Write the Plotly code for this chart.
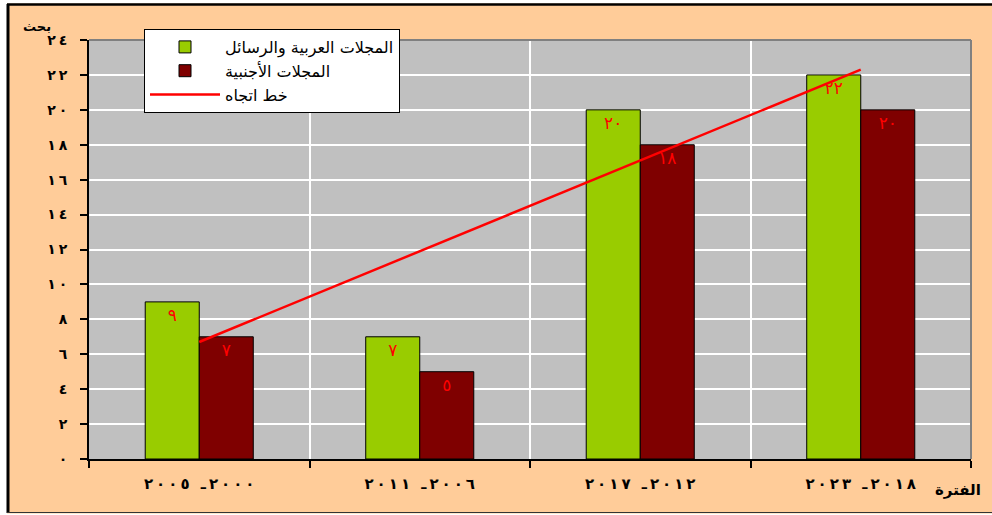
import numpy as np
import plotly.graph_objects as go

# ---- data ----
LRO, PDF, TS = "\u202d", "\u202c", "\u2009"
categories = ["٢٠٠٥ ـ٢٠٠٠", "٢٠١١ ـ٢٠٠٦", "٢٠١٧ ـ٢٠١٢", "٢٠٢٣ ـ٢٠١٨"]
arab_values = [9, 7, 20, 22]
foreign_values = [7, 5, 18, 20]
arab_labels = ["٩", "٧", "٢٠", "٢٢"]
foreign_labels = ["٧", "٥", "١٨", "٢٠"]
y_tickvals = [0, 2, 4, 6, 8, 10, 12, 14, 16, 18, 20, 22, 24]
y_ticktext = ["٠", "٢", "٤", "٦", "٨", "١٠", "١٢", "١٤", "١٦", "١٨", "٢٠", "٢٢", "٢٤"]
series_names = ["المجلات العربية والرسائل", "المجلات الأجنبية", "خط اتجاه"]
y_title = "بحث"
x_title = "الفترة"


def spaced(s):
    # force left-to-right visual order and spread the digits a little
    return LRO + TS.join(list(s)) + PDF


x_labels = [spaced(c) for c in categories]
y_labels = [spaced(t) for t in y_ticktext]

# linear trend of the first series (as Excel's trendline)
idx = np.arange(len(arab_values))
slope, intercept = np.polyfit(idx, arab_values, 1)
trend = slope * idx + intercept

FONT = "DejaVu Sans"
PEACH = "#FFCC99"
W, H = 992, 515
L, R, T, B = 89, 21, 40, 56
pw, ph = W - L - R, H - T - B


def px(x):
    return (x - L) / pw


def py(y):
    return (H - B - y) / ph


fig = go.Figure()
fig.add_trace(go.Bar(
    x=x_labels, y=arab_values, name=series_names[0],
    marker=dict(color="#99CC00", line=dict(color="#000000", width=1)),
    text=arab_labels, textposition="inside", insidetextanchor="end",
    textfont=dict(color="#FF0000", size=17, family=FONT),
    constraintext="none", hoverinfo="skip",
))
fig.add_trace(go.Bar(
    x=x_labels, y=foreign_values, name=series_names[1],
    marker=dict(color="#7F0000", line=dict(color="#000000", width=1)),
    text=foreign_labels, textposition="inside", insidetextanchor="end",
    textfont=dict(color="#FF0000", size=17, family=FONT),
    constraintext="none", hoverinfo="skip",
))
fig.add_trace(go.Scatter(
    x=x_labels, y=trend, name=series_names[2], mode="lines",
    line=dict(color="#FF0000", width=2.5), hoverinfo="skip",
))

shapes = [
    # white margins outside the frame
    dict(type="rect", xref="paper", yref="paper", x0=px(-5), x1=px(7), y0=py(-5), y1=py(520),
         fillcolor="white", line=dict(width=0), layer="above"),
    dict(type="rect", xref="paper", yref="paper", x0=px(-5), x1=px(1000), y0=py(-5), y1=py(3.5),
         fillcolor="white", line=dict(width=0), layer="above"),
    dict(type="rect", xref="paper", yref="paper", x0=px(-5), x1=px(1000), y0=py(513.5), y1=py(520),
         fillcolor="white", line=dict(width=0), layer="above"),
    # frame lines
    dict(type="line", xref="paper", yref="paper", x0=px(7), x1=px(1000), y0=py(4.5), y1=py(4.5),
         line=dict(color="#000000", width=2.5), layer="above"),
    dict(type="line", xref="paper", yref="paper", x0=px(8), x1=px(8), y0=py(4), y1=py(513),
         line=dict(color="#000000", width=3), layer="above"),
    dict(type="line", xref="paper", yref="paper", x0=px(7), x1=px(1000), y0=py(512.5), y1=py(512.5),
         line=dict(color="#333333", width=1.2), layer="above"),
    # plot area border (top / right)
    dict(type="line", xref="paper", yref="paper", x0=0, x1=1, y0=1, y1=1,
         line=dict(color="#808080", width=2), layer="above"),
    dict(type="line", xref="paper", yref="paper", x0=1, x1=1, y0=0, y1=1,
         line=dict(color="#808080", width=2), layer="above"),
]

fig.update_layout(
    width=W, height=H,
    margin=dict(l=L, r=R, t=T, b=B, pad=0, autoexpand=False),
    paper_bgcolor=PEACH, plot_bgcolor="#C0C0C0",
    font=dict(family=FONT, color="#000000"),
    barmode="group", bargap=0.51, bargroupgap=0,
    showlegend=True,
    legend=dict(
        x=px(144), y=py(29), xanchor="left", yanchor="top",
        bgcolor="white", bordercolor="#000000", borderwidth=1,
        font=dict(family=FONT, size=16, color="#000000"),
        tracegroupgap=0, itemwidth=70,
    ),
    shapes=shapes,
    annotations=[
        dict(text=f"<b>{y_title}</b>", xref="paper", yref="paper", x=px(37), y=py(27),
             xanchor="center", yanchor="middle", showarrow=False,
             font=dict(family=FONT, size=13, color="#000000")),
        dict(text=f"<b>{x_title}</b>", xref="paper", yref="paper", x=px(958), y=py(490),
             xanchor="center", yanchor="middle", showarrow=False,
             font=dict(family=FONT, size=15, color="#000000")),
    ],
)
fig.update_xaxes(
    type="category", tickson="boundaries",
    showgrid=True, gridcolor="#FFFFFF", gridwidth=1.5,
    showline=True, linecolor="#000000", linewidth=2,
    ticks="outside", ticklen=7, tickcolor="#000000", tickwidth=1.5,
    tickfont=dict(family=FONT, size=15, color="#000000", weight="bold"),
    ticklabelstandoff=10, fixedrange=True,
)
fig.update_yaxes(
    range=[0, 24], tickvals=y_tickvals, ticktext=y_labels,
    showgrid=True, gridcolor="#FFFFFF", gridwidth=1.5, zeroline=False,
    showline=True, linecolor="#000000", linewidth=2,
    ticks="outside", ticklen=7, tickcolor="#000000", tickwidth=1.5,
    tickfont=dict(family=FONT, size=14, color="#000000", weight="bold"),
    ticklabelstandoff=10, fixedrange=True,
)

fig.write_html("out.html", config={"displayModeBar": False},
               post_script="document.body.style.margin='0';")
